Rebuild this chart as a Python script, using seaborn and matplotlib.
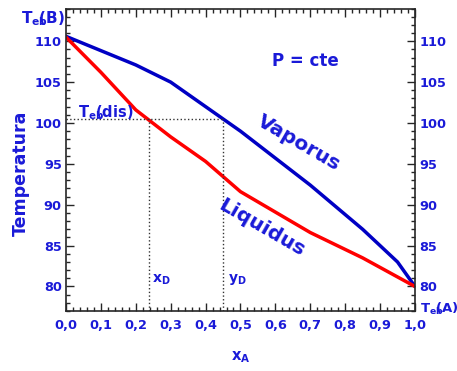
import numpy as np
import pandas as pd
import matplotlib
matplotlib.use("Agg")
import matplotlib.pyplot as plt
from matplotlib.ticker import MultipleLocator, FuncFormatter
import seaborn as sns

# data
x_vapor = [0.0, 0.2, 0.3, 0.5, 0.7, 0.85, 0.9, 0.95, 1.0]
t_vapor = [110.6, 107.1, 105.0, 99.0, 92.4, 87.0, 85.0, 83.0, 80.0]
x_liquid = [0.0, 0.1, 0.2, 0.3, 0.4, 0.5, 0.7, 0.85, 1.0]
t_liquid = [110.5, 106.2, 101.6, 98.3, 95.3, 91.6, 86.6, 83.5, 80.0]
t_dis = 100.5
x_d = 0.238
y_d = 0.45

sns.set_style("ticks")
plt.rcParams['font.family'] = ['DejaVu Sans']
plt.rcParams['font.weight'] = 'bold'
plt.rcParams['mathtext.fontset'] = 'custom'
plt.rcParams['mathtext.rm'] = 'DejaVu Sans:bold'
plt.rcParams['mathtext.it'] = 'DejaVu Sans:bold'
plt.rcParams['mathtext.bf'] = 'DejaVu Sans:bold'

txt = '#1a1ad8'
df = pd.concat([
    pd.DataFrame({'x': x_vapor, 'T': t_vapor, 'curve': 'Vaporus'}),
    pd.DataFrame({'x': x_liquid, 'T': t_liquid, 'curve': 'Liquidus'}),
])


def teb(s):
    # subscript "eb" partly tucked under the bracket, as in the original
    return r'$\mathrm{T}_{\mathrm{eb}}\!\!\!\mathrm{(' + s + r')}$'


fig = plt.figure(figsize=(4.57, 3.71), dpi=100)
ax = fig.add_axes([0.1444, 0.1617, 0.7636, 0.8153])
sns.lineplot(data=df, x='x', y='T', hue='curve', palette={'Vaporus': '#0000c4', 'Liquidus': '#ff0000'},
             linewidth=2.5, legend=False, ax=ax, sort=False, estimator=None)

# dotted construction lines
ax.plot([0, y_d], [t_dis, t_dis], ls=':', color='#333333', lw=1)
ax.plot([x_d, x_d], [77, t_dis], ls=':', color='#333333', lw=1)
ax.plot([y_d, y_d], [77, t_dis], ls=':', color='#333333', lw=1)

ax.set_xlim(0, 1)
ax.set_ylim(77, 114)
ax.xaxis.set_major_locator(MultipleLocator(0.1))
ax.xaxis.set_minor_locator(MultipleLocator(0.02))
ax.yaxis.set_minor_locator(MultipleLocator(1))
ax.set_yticks([80, 85, 90, 95, 100, 105, 110])
ax.xaxis.set_major_formatter(FuncFormatter(lambda v, p: f"{v:.1f}".replace('.', ',')))
ax.tick_params(which='both', direction='in', top=True, right=True, labelright=True,
               labelsize=9.3, labelcolor=txt, width=1)
ax.tick_params(which='major', length=6)
ax.tick_params(which='minor', length=3)
ax.tick_params(axis='x', pad=6)
ax.tick_params(axis='y', pad=3)
for s in ax.spines.values():
    s.set_linewidth(1.2)

ax.set_xlabel(r'x$_A$', color=txt, fontsize=10.5, fontweight='bold', labelpad=12)
ax.set_ylabel('Temperatura', color=txt, fontsize=12.5, fontweight='bold')
ax.yaxis.set_label_coords(-0.103, 0.4545)

ax.text(0.59, 107.6, 'P = cte', color=txt, fontsize=12, fontweight='bold', va='center')
ax.text(0.668, 97.5, 'Vaporus', rotation=-30, color=txt, fontsize=14.5, fontweight='bold',
        ha='center', va='center', rotation_mode='anchor')
ax.text(0.56, 87.2, 'Liquidus', rotation=-30, color=txt, fontsize=14.5, fontweight='bold',
        ha='center', va='center', rotation_mode='anchor')
ax.text(0.034, 100.75, teb('dis'), color=txt, fontsize=10.5, va='baseline')
ax.text(x_d + 0.008, 80.5, r'x$_D$', color=txt, fontsize=10, fontweight='bold', va='baseline')
ax.text(y_d + 0.015, 80.5, r'y$_D$', color=txt, fontsize=10, fontweight='bold', va='baseline')
fig.text(0.046, 0.949, teb('B'), color=txt, fontsize=11, va='center')
fig.text(0.918, 0.168, teb('A'), color=txt, fontsize=9.5, va='center')

fig.savefig('out.png', dpi=100)
